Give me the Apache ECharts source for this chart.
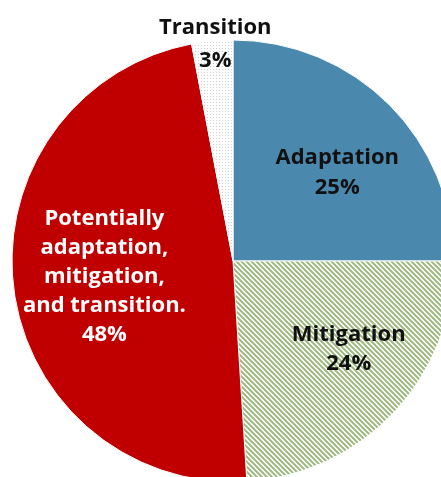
<!DOCTYPE html>
<html><head><meta charset="utf-8">
<script src="https://cdn.jsdelivr.net/npm/echarts@6/dist/echarts.min.js"></script>
<style>html,body{margin:0;padding:0;background:#fff;}#c{width:441px;height:477px;}</style>
</head><body><div id="c"></div>
<script>
const categories = ['Adaptation', 'Mitigation', 'Potentially\nadaptation,\nmitigation,\nand transition.', 'Transition'];
const values = [25, 24, 48, 3];

function stripe() {
  const c = document.createElement('canvas');
  const p = 5;
  c.width = p; c.height = p;
  const g = c.getContext('2d');
  g.fillStyle = '#ffffff'; g.fillRect(0, 0, p, p);
  g.strokeStyle = '#9fb982'; g.lineWidth = 2;
  g.beginPath();
  g.moveTo(-1, -1); g.lineTo(p + 1, p + 1);
  g.moveTo(-1, p - 1); g.lineTo(1, p + 1);
  g.moveTo(p - 1, -1); g.lineTo(p + 1, 1);
  g.stroke();
  return c;
}
function dots() {
  const c = document.createElement('canvas');
  c.width = 3; c.height = 3;
  const g = c.getContext('2d');
  g.fillStyle = '#ffffff'; g.fillRect(0, 0, 3, 3);
  g.fillStyle = '#cfcfcf'; g.fillRect(0, 0, 1, 1);
  return c;
}
const fills = ['#4a89ad', {image: stripe(), repeat: 'repeat'}, '#c00000', {image: dots(), repeat: 'repeat'}];
const textColors = ['#111', '#111', '#fff', '#111'];
const lineHeights = [30, 29, 29, 33];
const shifts = [[24, -8], [33, 11], [-16, 2], [-7, -104]];

const chart = echarts.init(document.getElementById('c'));
chart.setOption({
  animation: false,
  series: [{
    type: 'pie',
    center: [233, 261],
    radius: 221,
    startAngle: 90,
    clockwise: true,
    label: {
      show: true, position: 'inside',
      fontFamily: 'Open Sans', fontWeight: 'bold', fontSize: 22, lineHeight: 29,
      formatter: p => p.name + '\n' + p.value + '%'
    },
    labelLine: {show: false},
    itemStyle: {borderColor: '#fff', borderWidth: 1},
    labelLayout: p => ({dx: shifts[p.dataIndex][0], dy: shifts[p.dataIndex][1]}),
    data: categories.map((n, i) => ({
      name: n, value: values[i],
      itemStyle: {color: fills[i]},
      label: {color: textColors[i], lineHeight: lineHeights[i]}
    }))
  }]
});
</script></body></html>
